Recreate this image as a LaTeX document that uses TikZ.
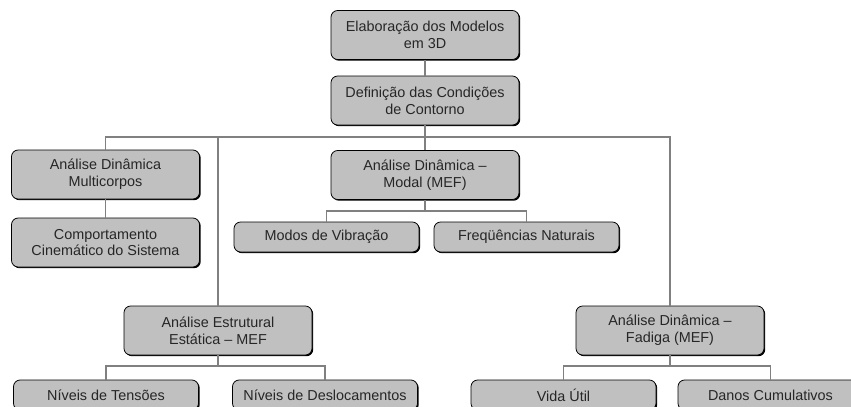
\documentclass[tikz,border=0pt]{standalone}
\usepackage{fontspec}
\setmainfont{Liberation Sans}
\usetikzlibrary{shadows,positioning}
\definecolor{boxgray}{RGB}{192,192,192}
\definecolor{linegray}{RGB}{128,128,128}
\tikzset{
  stage/.style={draw=black, line width=0.6pt, fill=boxgray, rounded corners=5pt,
    drop shadow={shadow xshift=0.9pt, shadow yshift=-0.9pt, fill=black, opacity=1},
    align=center, inner sep=0pt, text=black!85,
    font=\fontsize{10.8}{12.6}\selectfont,
    minimum height=49*0.75pt, minimum width=188*0.75pt},
  result/.style={stage, minimum height=30*0.75pt, minimum width=185*0.75pt},
  link/.style={draw=linegray, line width=1.1pt}
}

\begin{document}
\begin{tikzpicture}[x=0.75pt, y=-0.75pt]
  \useasboundingbox (0,0) rectangle (851,407);
  \clip (0,0) rectangle (851,407);
  % stages
  \node[stage] (modelos) at (425,35) {Elaboração dos Modelos\\em 3D};
  \node[stage] (contorno) at (425,100.5) {Definição das Condições\\de Contorno};
  \node[stage] (multicorpos) at (105.5,174.5) {Análise Dinâmica\\Multicorpos};
  \node[stage] (cinematico) at (105.5,242.5) {Comportamento\\Cinemático do Sistema};
  \node[stage] (modal) at (425,175) {Análise Dinâmica –\\Modal (MEF)};
  \node[result] (modos) at (326.5,237) {Modos de Vibração};
  \node[result] (freq) at (526.5,237) {Freqüências Naturais};
  \node[stage] (estrutural) at (218,330.5) {Análise Estrutural\\Estática – MEF};
  \node[stage] (fadiga) at (670,330.5) {Análise Dinâmica –\\Fadiga (MEF)};
  \node[result] (tensoes) at (106,395) {Níveis de Tensões};
  \node[result] (desloc) at (325,395) {Níveis de Deslocamentos};
  \node[result] (vida) at (563.5,395) {Vida Útil};
  \node[result] (danos) at (770.5,395) {Danos Cumulativos};
  % buses
  \coordinate (bus) at (425,137);
  \coordinate (modalbus) at (425,211);
  \coordinate (estbus) at (218,366);
  \coordinate (fadbus) at (670,366);
  % links
  \draw[link] (modelos) -- (contorno);
  \draw[link] (contorno.south) -- (bus);
  \draw[link] (bus) -| (multicorpos.north);
  \draw[link] (bus) -| (fadiga.north);
  \draw[link] (bus -| estrutural) -- (estrutural.north);
  \draw[link] (bus) -- (modal.north);
  \draw[link] (multicorpos) -- (cinematico);
  \draw[link] (modal.south) -- (modalbus);
  \draw[link] (modalbus) -| (modos.north);
  \draw[link] (modalbus) -| (freq.north);
  \draw[link] (estrutural.south) -- (estbus);
  \draw[link] (estbus) -| (tensoes.north);
  \draw[link] (estbus) -| (desloc.north);
  \draw[link] (fadiga.south) -- (fadbus);
  \draw[link] (fadbus) -| (vida.north);
  \draw[link] (fadbus) -| (danos.north);
\end{tikzpicture}
\end{document}
